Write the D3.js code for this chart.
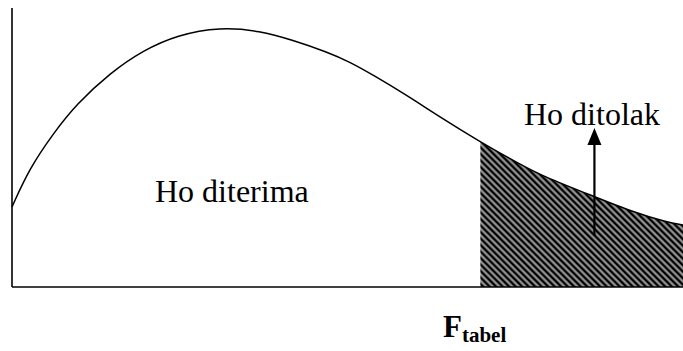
<!DOCTYPE html>
<html><head><meta charset="utf-8">
<script src="https://cdn.jsdelivr.net/npm/d3@7"></script>
<style>html,body{margin:0;padding:0;background:#fff;}svg{display:block;}</style>
</head><body>
<svg id="chart" width="683" height="351"></svg>
<script>
// F-distribution style density curve (x in F units, y relative density)
const fValues  = [0, 0.13, 0.31, 0.48, 0.73, 0.98, 1.23, 1.55, 1.85, 2.09, 2.35, 2.52, 2.69, 2.94, 3.19, 3.49, 3.69, 3.93, 4.31, 4.63, 4.88, 5.0];
const density  = [0.287, 0.425, 0.552, 0.655, 0.767, 0.849, 0.903, 0.932, 0.918, 0.885, 0.842, 0.806, 0.760, 0.688, 0.609, 0.520, 0.466, 0.401, 0.330, 0.268, 0.232, 0.222];
const fTabel = 3.49;
const labels = { accept: "Ho diterima", reject: "Ho ditolak", crit: "F", critSub: "tabel" };

const svg = d3.select("#chart");
const x = d3.scaleLinear().domain([0, 5]).range([12, 683]);
const y = d3.scaleLinear().domain([0, 1]).range([287, 8]);
const pts = fValues.map((f, i) => ({ f, d: density[i] }));

const defs = svg.append("defs");
const pat = defs.append("pattern").attr("id", "hatch").attr("patternUnits", "userSpaceOnUse")
  .attr("width", 4.6).attr("height", 4.6).attr("patternTransform", "rotate(-45)");
pat.append("rect").attr("width", 4.6).attr("height", 4.6).attr("fill", "#a0a0a0");
pat.append("rect").attr("x", 0).attr("width", 2.1).attr("height", 4.6).attr("fill", "#000");
pat.append("rect").attr("x", 2.1).attr("width", 0.6).attr("height", 4.6).attr("fill", "#555");
pat.append("rect").attr("x", 4.0).attr("width", 0.6).attr("height", 4.6).attr("fill", "#555");

const curve = d3.curveBasis;
// clip the hatch to the region under the full curve, right of F tabel
const area = d3.area().x(p => x(p.f)).y0(y(0)).y1(p => y(p.d)).curve(curve);
defs.append("clipPath").attr("id", "rej").append("rect")
  .attr("x", x(fTabel)).attr("y", 0).attr("width", x(5) - x(fTabel)).attr("height", y(0));
svg.append("path").datum(pts).attr("d", area).attr("fill", "url(#hatch)")
  .attr("clip-path", "url(#rej)");

const line = d3.line().x(p => x(p.f)).y(p => y(p.d)).curve(curve);
svg.append("path").datum(pts).attr("d", line)
  .attr("fill", "none").attr("stroke", "#000").attr("stroke-width", 1.5);

// axes (plain lines, no ticks)
svg.append("line").attr("x1", x(0)).attr("x2", x(0)).attr("y1", y(1)).attr("y2", y(0))
  .attr("stroke", "#000").attr("stroke-width", 1.6);
svg.append("line").attr("x1", x(0)).attr("x2", x(5)).attr("y1", y(0)).attr("y2", y(0))
  .attr("stroke", "#000").attr("stroke-width", 1.6);

const serif = "'Liberation Serif','Times New Roman',serif";
svg.append("text").attr("x", 155).attr("y", 202).attr("font-family", serif)
  .attr("font-size", 32).attr("fill", "#000").text(labels.accept);
svg.append("text").attr("x", 524).attr("y", 125).attr("font-family", serif)
  .attr("font-size", 32).attr("fill", "#000").text(labels.reject);

// arrow
const ax = x(4.34);
svg.append("line").attr("x1", ax).attr("x2", ax).attr("y1", 236).attr("y2", 142)
  .attr("stroke", "#000").attr("stroke-width", 2.2);
svg.append("path").attr("d", `M${ax},128 L${ax - 7},145 L${ax + 7},145 Z`).attr("fill", "#000");

const t = svg.append("text").attr("x", 443).attr("y", 337).attr("font-family", serif)
  .attr("font-weight", "bold").attr("font-size", 31).attr("fill", "#000");
t.append("tspan").text(labels.crit);
t.append("tspan").attr("font-size", 21).attr("dy", 5).text(labels.critSub);
</script>
</body></html>
